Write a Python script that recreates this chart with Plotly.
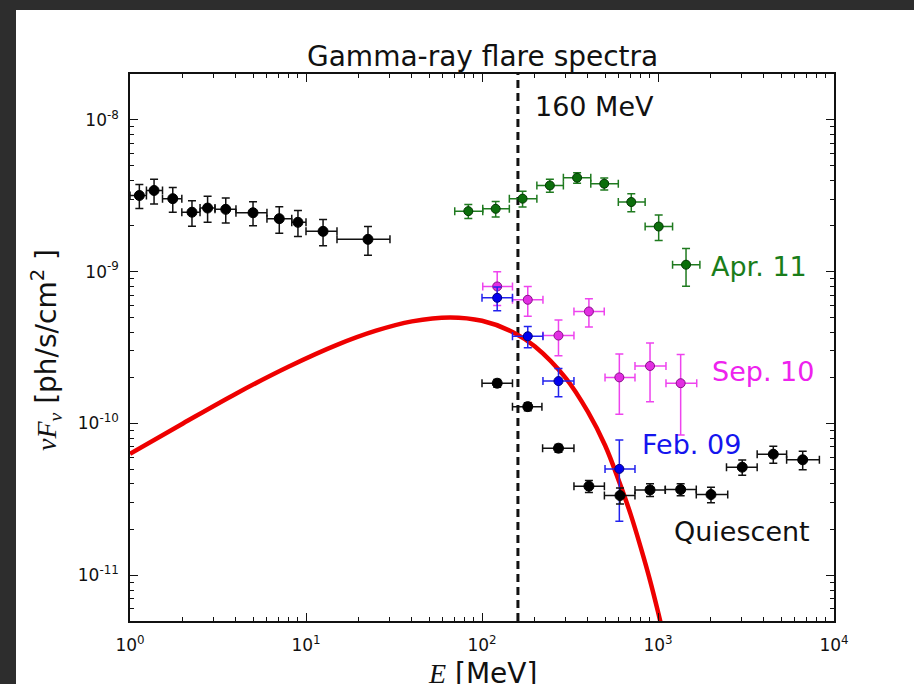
import plotly.graph_objects as go

# ---- Quiescent spectrum: bin centre, bin edges, nuFnu, 1-sigma error ----
q_E = [1.13, 1.37, 1.75, 2.25, 2.76, 3.5, 5.0, 7.05, 9.0, 12.5, 22.5,
       122, 182, 272, 405, 608, 901, 1345, 2000, 3010, 4520, 6640]
q_lo = [1.0, 1.24, 1.53, 1.97, 2.5, 3.04, 4.0, 6.0, 8.3, 10.0, 15.0,
        100, 149, 221, 333, 496, 740, 1100, 1650, 2450, 3660, 5380]
q_hi = [1.24, 1.53, 1.97, 2.5, 3.04, 4.0, 6.0, 8.3, 10.0, 15.0, 30.0,
        149, 219, 333, 496, 740, 1100, 1650, 2490, 3660, 5380, 8260]
q_F = [3.17e-9, 3.42e-9, 3.02e-9, 2.46e-9, 2.62e-9, 2.57e-9, 2.44e-9, 2.23e-9,
       2.11e-9, 1.84e-9, 1.63e-9,
       1.84e-10, 1.29e-10, 6.87e-11, 3.86e-11, 3.35e-11, 3.65e-11, 3.67e-11,
       3.40e-11, 5.15e-11, 6.27e-11, 5.76e-11]
q_err = [0.57e-9, 0.63e-9, 0.56e-9, 0.47e-9, 0.51e-9, 0.48e-9, 0.44e-9, 0.44e-9,
         0.41e-9, 0.36e-9, 0.35e-9,
         0.11e-10, 0.08e-10, 0.4e-11, 0.35e-11, 0.4e-11, 0.35e-11, 0.33e-11,
         0.4e-11, 0.6e-11, 0.8e-11, 0.8e-11]

# ---- Flare of April 2011 ----
a_E = [83.6, 119.6, 170, 243, 347, 495, 705, 1009, 1443]
a_lo = [70, 101, 143, 205, 290, 415, 595, 845, 1210]
a_hi = [101, 143, 205, 290, 415, 595, 845, 1210, 1730]
a_F = [2.50e-9, 2.59e-9, 3.02e-9, 3.69e-9, 4.15e-9, 3.79e-9, 2.87e-9, 1.98e-9, 1.11e-9]
a_err = [0.26e-9, 0.30e-9, 0.36e-9, 0.36e-9, 0.33e-9, 0.34e-9, 0.39e-9, 0.38e-9, 0.31e-9]

# ---- Flare of September 2010 ----
s_E = [122, 182, 272, 405, 603, 901, 1345]
s_lo = [101, 149, 222, 333, 500, 740, 1110]
s_hi = [149, 222, 333, 495, 740, 1110, 1660]
s_F = [7.98e-10, 6.52e-10, 3.79e-10, 5.46e-10, 2.01e-10, 2.39e-10, 1.84e-10]
s_err = [2.0e-10, 1.45e-10, 1.0e-10, 1.15e-10, 0.86e-10, 1.0e-10, 1.0e-10]

# ---- Flare of February 2009 ----
f_E = [122, 182, 272, 603]
f_lo = [100, 149, 222, 500]
f_hi = [149, 222, 333, 740]
f_F = [6.72e-10, 3.75e-10, 1.90e-10, 5.02e-11]
f_err = [1.2e-10, 0.6e-10, 0.4e-10, 2.75e-11]

# ---- Synchrotron model curve ----
m_E = [1, 2, 4, 8, 15, 25, 40, 66, 100, 150, 200, 300, 400, 500, 600, 700,
       800, 900, 1000, 1100]
m_F = [6.31e-11, 1.00e-10, 1.57e-10, 2.37e-10, 3.29e-10, 4.08e-10, 4.70e-10,
       4.99e-10, 4.74e-10, 3.99e-10, 3.21e-10, 1.98e-10, 1.19e-10, 7.18e-11,
       4.17e-11, 2.51e-11, 1.51e-11, 9.3e-12, 5.75e-12, 3.6e-12]

# Energy threshold marker
cut_E = 160

x_range = [0, 4]          # log10 of 1 .. 1e4 MeV
y_lim = [5e-12, 2e-8]

x_major = [1, 10, 100, 1000, 10000]
x_major_text = ["10<sup>0</sup>", "10<sup>1</sup>", "10<sup>2</sup>",
                "10<sup>3</sup>", "10<sup>4</sup>"]
y_major = [1e-11, 1e-10, 1e-9, 1e-8]
y_major_text = ["10<sup>-11</sup>", "10<sup>-10</sup>", "10<sup>-9</sup>",
                "10<sup>-8</sup>"]

x_minor = [m * 10 ** d for d in range(0, 4) for m in range(2, 10)]
y_minor = [m * 10 ** d for d in range(-12, -7) for m in range(2, 10)
           if y_lim[0] <= m * 10 ** d <= y_lim[1]]

FONT = "DejaVu Sans"
SERIF = "Liberation Serif"


def spectrum(E, lo, hi, F, err, fill, edge, bar, size):
    return go.Scatter(
        x=E, y=F, mode="markers",
        marker=dict(size=size, color=fill, line=dict(color=edge, width=1)),
        error_x=dict(type="data", symmetric=False,
                     array=[h - e for e, h in zip(E, hi)],
                     arrayminus=[e - l for e, l in zip(E, lo)],
                     color=bar, thickness=1.5, width=4),
        error_y=dict(type="data", array=err, color=bar, thickness=1.5, width=4),
        showlegend=False, hoverinfo="skip",
    )


fig = go.Figure()

# dashed threshold line
fig.add_trace(go.Scatter(x=[cut_E, cut_E], y=y_lim, mode="lines",
                         line=dict(color="#111111", width=3, dash="8px,5px"),
                         showlegend=False, hoverinfo="skip"))

# model curve
fig.add_trace(go.Scatter(x=m_E, y=m_F, mode="lines",
                         line=dict(color="#ee0000", width=4.5, shape="spline"),
                         showlegend=False, hoverinfo="skip"))

fig.add_trace(spectrum(a_E, a_lo, a_hi, a_F, a_err,
                       "#0b6e0b", "#033803", "#1f7a1f", 9))
fig.add_trace(spectrum(s_E, s_lo, s_hi, s_F, s_err,
                       "#e22ee2", "#8a108a", "#ee44ee", 9))
fig.add_trace(spectrum(f_E, f_lo, f_hi, f_F, f_err,
                       "#0000ee", "#000080", "#2222ee", 9))
fig.add_trace(spectrum(q_E, q_lo, q_hi, q_F, q_err,
                       "#000000", "#000000", "#111111", 10))

axis_common = dict(
    type="log", showgrid=False, zeroline=False,
    showline=True, linecolor="#111111", linewidth=1.5, mirror="ticks",
    ticks="inside", ticklen=8, tickwidth=1, tickcolor="#111111",
    tickfont=dict(family=FONT, size=17, color="#111111"),
)

fig.update_xaxes(**axis_common, range=x_range,
                 tickmode="array", tickvals=x_major, ticktext=x_major_text,
                 ticklabelstandoff=8,
                 minor=dict(tickmode="array", tickvals=x_minor, ticks="inside",
                            ticklen=4, tickwidth=1, tickcolor="#111111"))
fig.update_yaxes(**axis_common,
                 range=[-11.30103, -7.69897],
                 tickmode="array", tickvals=y_major, ticktext=y_major_text,
                 ticklabelstandoff=6,
                 minor=dict(tickmode="array", tickvals=y_minor, ticks="inside",
                            ticklen=4, tickwidth=1, tickcolor="#111111"))

W, H = 914, 684
L, R, T, B = 130, 80, 74, 63
pw, ph = W - L - R, H - T - B


def px(xpix):
    return (xpix - L) / pw


def py(ypix):
    return 1 - (ypix - T) / ph


annotations = [
    dict(text="Gamma-ray flare spectra", x=px(482), y=py(57),
         font=dict(size=28, color="#111111")),
    dict(text="160 MeV", x=px(533), y=py(106), xanchor="left",
         font=dict(size=27, color="#111111")),
    dict(text="Apr. 11", x=px(709), y=py(266), xanchor="left",
         font=dict(size=27, color="#1a7d1a")),
    dict(text="Sep. 10", x=px(710), y=py(372), xanchor="left",
         font=dict(size=27, color="#ee22ee")),
    dict(text="Feb. 09", x=px(640), y=py(444), xanchor="left",
         font=dict(size=27, color="#1515ee")),
    dict(text="Quiescent", x=px(672), y=py(531), xanchor="left",
         font=dict(size=27, color="#111111")),
    dict(text=f'<span style="font-family:{SERIF}"><i>νF</i><sub><i>ν</i></sub></span>'
              ' [ph/s/cm<sup>2</sup> ]',
         x=px(46), y=py(350), textangle=-90,
         font=dict(size=28, color="#111111")),
    dict(text=f'<span style="font-family:{SERIF}"><i>E</i></span> [MeV]',
         x=px(482), y=py(673),
         font=dict(size=28, color="#111111")),
]
for a in annotations:
    a.setdefault("xanchor", "center")
    a.update(xref="paper", yref="paper", yanchor="middle", showarrow=False)
    a["font"].setdefault("family", FONT)

fig.update_layout(
    width=W, height=H, autosize=False,
    margin=dict(l=L, r=R, t=T, b=B, pad=0),
    paper_bgcolor="#2d2d2d", plot_bgcolor="white",
    annotations=annotations,
    shapes=[dict(type="rect", xref="paper", yref="paper", layer="below",
                 x0=px(16), x1=px(W + 5), y0=py(10), y1=py(H + 5),
                 fillcolor="white", line=dict(width=0))],
)

fig.write_html("out.html")
